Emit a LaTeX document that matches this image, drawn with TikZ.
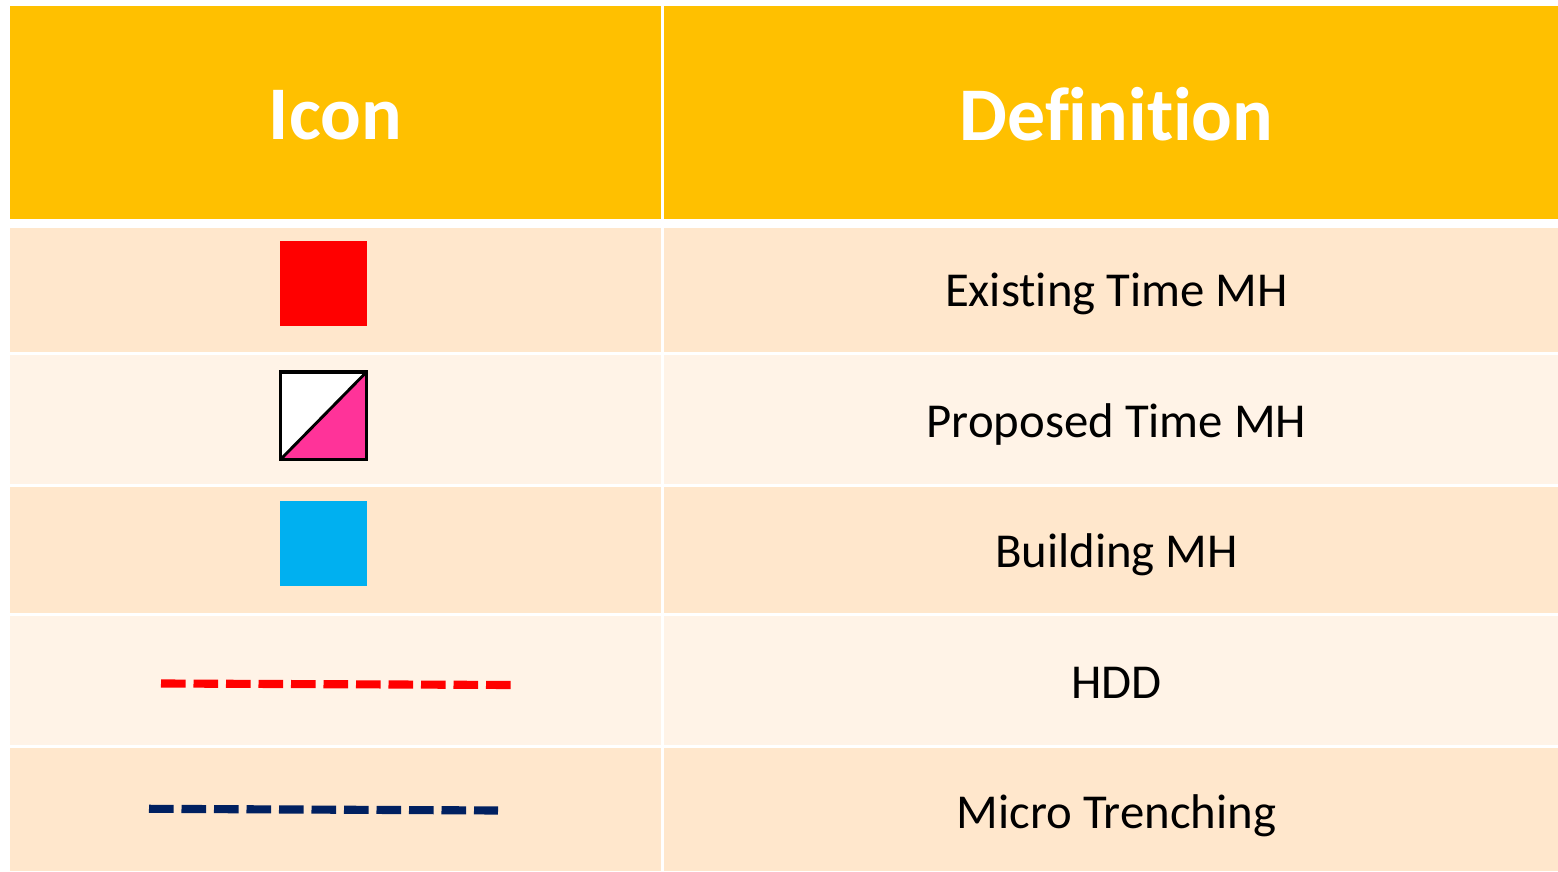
\documentclass[tikz,border=0pt]{standalone}
\usepackage{fontspec}
\setmainfont[Ligatures=NoCommon,Contextuals=NoAlternate]{Carlito}
\definecolor{hdr}{HTML}{FFC000}
\definecolor{rowa}{HTML}{FFE7CC}
\definecolor{rowb}{HTML}{FFF3E7}
\definecolor{pinkc}{HTML}{FF3399}
\definecolor{bluec}{HTML}{00B0F0}
\definecolor{navyc}{HTML}{002060}
\tikzset{x=0.48pt,y=-0.48pt,
 hdrtxt/.style={text=white,font=\fontsize{36.4pt}{38pt}\selectfont\bfseries,anchor=center},
 deftxt/.style={text=black,font=\fontsize{23.4pt}{26pt}\selectfont,anchor=center},
 dashline/.style={line width=3.9pt,dash pattern=on 11.8pt off 3.8pt}}
\begin{document}
\begin{tikzpicture}
\useasboundingbox (0,0) rectangle (1558,872);
\fill[white] (0,0) rectangle (1558,872);
\fill[hdr] (9.5,6) rectangle (661,219);
\fill[hdr] (664,6) rectangle (1558,219);
\fill[rowa] (9.5,228) rectangle (661,352);
\fill[rowa] (664,228) rectangle (1558,352);
\fill[rowb] (9.5,355) rectangle (661,484);
\fill[rowb] (664,355) rectangle (1558,484);
\fill[rowa] (9.5,487) rectangle (661,613);
\fill[rowa] (664,487) rectangle (1558,613);
\fill[rowb] (9.5,616) rectangle (661,745);
\fill[rowb] (664,616) rectangle (1558,745);
\fill[rowa] (9.5,748) rectangle (661,871);
\fill[rowa] (664,748) rectangle (1558,871);
\node[hdrtxt] (hicon) at (335.5,115) {Icon};
\node[hdrtxt] (hdef) at (1116.5,114.5) {Definition};
\node[deftxt] (d1) at (1116.5,293.5) {Existing Time MH};
\node[deftxt] (d2) at (1116.5,424.5) {Proposed Time MH};
\node[deftxt] (d3) at (1116.5,554.5) {Building MH};
\node[deftxt] (d4) at (1116.5,682.5) {HDD};
\node[deftxt] (d5) at (1116.5,815.5) {Micro Trenching};
\fill[red] (280,241) rectangle (367,326);
\fill[white] (280.5,372) rectangle (366.5,459.5);
\fill[pinkc] (280.5,459.5) -- (366.5,372) -- (366.5,459.5) -- cycle;
\draw[black,line width=1.6pt] (280.5,372) rectangle (366.5,459.5);
\draw[black,line width=1.4pt] (280.5,459.5) -- (366.5,372);
\fill[bluec] (280,501) rectangle (367,586);
\coordinate (ha) at (161,683.5);
\coordinate (hb) at (511,685);
\coordinate (ma) at (149,808.8);
\coordinate (mb) at (498,810.5);
\draw[red,dashline] (ha) -- (hb);
\draw[navyc,dashline] (ma) -- (mb);
\end{tikzpicture}
\end{document}
